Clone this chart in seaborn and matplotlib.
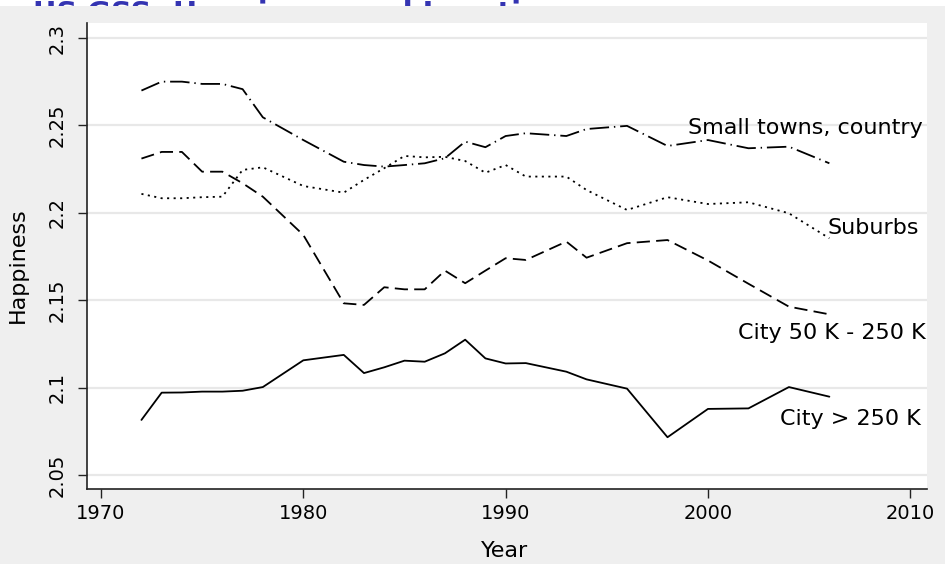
import matplotlib
matplotlib.use("Agg")
import matplotlib.pyplot as plt
import seaborn as sns
import pandas as pd
from matplotlib.patches import Rectangle

# ---------------- data ----------------
years = [1972, 1973, 1974, 1975, 1976, 1977, 1978, 1980, 1982, 1983, 1984, 1985, 1986,
         1987, 1988, 1989, 1990, 1991, 1993, 1994, 1996, 1998, 2000, 2002, 2004, 2006]

small_towns = [2.2699, 2.2750, 2.2750, 2.2737, 2.2737, 2.2707, 2.2546, 2.2416, 2.2292,
               2.2273, 2.2264, 2.2273, 2.2283, 2.2312, 2.2407, 2.2375, 2.2439, 2.2455,
               2.2439, 2.2479, 2.2497, 2.2382, 2.2416, 2.2369, 2.2378, 2.2283]

suburbs = [2.2108, 2.2083, 2.2083, 2.2089, 2.2092, 2.2245, 2.2260, 2.2153, 2.2115,
           2.2188, 2.2255, 2.2325, 2.2317, 2.2320, 2.2296, 2.2229, 2.2273, 2.2207,
           2.2207, 2.2130, 2.2016, 2.2089, 2.2050, 2.2060, 2.1997, 2.1854]

city_mid = [2.2310, 2.2348, 2.2348, 2.2235, 2.2235, 2.2169, 2.2092, 2.1873, 2.1482,
            2.1473, 2.1574, 2.1562, 2.1562, 2.1669, 2.1597, 2.1669, 2.1740, 2.1730,
            2.1835, 2.1743, 2.1826, 2.1844, 2.1727, 2.1594, 2.1463, 2.1419]

city_large = [2.0815, 2.0971, 2.0972, 2.0977, 2.0977, 2.0982, 2.1003, 2.1156, 2.1187,
              2.1083, 2.1116, 2.1154, 2.1148, 2.1196, 2.1274, 2.1167, 2.1138, 2.1140,
              2.1091, 2.1047, 2.0994, 2.0716, 2.0878, 2.0881, 2.1003, 2.0948]

series_names = ["Small towns, country", "Suburbs", "City 50 K - 250 K", "City > 250 K"]
series_values = [small_towns, suburbs, city_mid, city_large]

x_ticks = [1970, 1980, 1990, 2000, 2010]
y_ticks = [2.05, 2.1, 2.15, 2.2, 2.25, 2.3]
y_tick_labels = ["2.05", "2.1", "2.15", "2.2", "2.25", "2.3"]
title_text = "US GSS: Happiness and Location"

# ---------------- style ----------------
sns.set_theme(style="white")
plt.rcParams["font.family"] = ["DejaVu Sans"]
plt.rcParams["lines.scale_dashes"] = False

W, H = 945, 564
fig, ax = plt.subplots(figsize=(9.451, 5.641), dpi=100)
fig.patch.set_facecolor("white")
ax.set_facecolor("white")
fig.subplots_adjust(left=87 / W, right=927 / W, bottom=1 - 489 / H, top=1 - 23 / H)

frames = []
for name, vals in zip(series_names, series_values):
    frames.append(pd.DataFrame({"Year": years, "Happiness": vals, "Location": name}))
df = pd.concat(frames, ignore_index=True)

dash_map = {
    "Small towns, country": (14, 3.5, 1, 3.5),
    "Suburbs": (1.5, 3.2),
    "City 50 K - 250 K": (9.5, 4.5),
    "City > 250 K": "",
}
sns.lineplot(data=df, x="Year", y="Happiness", style="Location", dashes=dash_map,
             color="black", linewidth=1.3, legend=False, ax=ax,
             estimator=None, sort=False)

ax.set_xlim(1969.31, 2010.83)
ax.set_ylim(2.042, 2.3086)
ax.set_xticks(x_ticks)
ax.set_xticklabels([str(v) for v in x_ticks])
ax.set_yticks(y_ticks)
ax.set_yticklabels(y_tick_labels)

ax.yaxis.grid(True, color="#e8e8e8", linewidth=1.6)
ax.xaxis.grid(False)
ax.set_axisbelow(True)
for s in ["top", "right"]:
    ax.spines[s].set_visible(False)
for s in ["left", "bottom"]:
    ax.spines[s].set_color("#222222")
    ax.spines[s].set_linewidth(1.2)

ax.tick_params(axis="both", which="major", direction="out", length=6.5, width=1,
               color="#222222", labelsize=14, labelcolor="black",
               left=True, bottom=True)
ax.tick_params(axis="y", pad=8.5)
ax.tick_params(axis="x", pad=4)
for lab in ax.get_yticklabels():
    lab.set_rotation(90)
    lab.set_va("center")
    lab.set_ha("right")

ax.set_xlabel("Year", fontsize=16, color="black")
ax.set_ylabel("Happiness", fontsize=16, color="black")
ax.xaxis.set_label_coords((505 - 87) / 840, -(557 - 489) / 466)
ax.xaxis.label.set_va("baseline")
ax.yaxis.set_label_coords((18 - 87) / 840, (489 - 265) / 466)
ax.yaxis.label.set_va("center")

# line labels
lab_kw = dict(fontsize=16, color="black", va="baseline", clip_on=False)
ax.text(2010.63, 2.2451, "Small towns, country", ha="right", **lab_kw)
ax.text(2005.89, 2.1879, "Suburbs", ha="left", **lab_kw)
ax.text(2010.78, 2.1276, "City 50 K - 250 K", ha="right", **lab_kw)
ax.text(2010.52, 2.0786, "City > 250 K", ha="right", **lab_kw)

# title: drawn beneath a gray panel so only its top sliver shows in the white strip
strip_h = 6 / H
fig.text(33 / W, 1 - 21.5 / H, title_text, fontsize=20.8, fontweight="bold",
         color="#3434b2", va="baseline", ha="left", zorder=-2)
gray = Rectangle((0, 0), 1, 1 - strip_h, transform=fig.transFigure,
                 facecolor="#efefef", edgecolor="none", zorder=-1)
fig.patches.append(gray)

fig.savefig("out.png", dpi=100, facecolor="white")
